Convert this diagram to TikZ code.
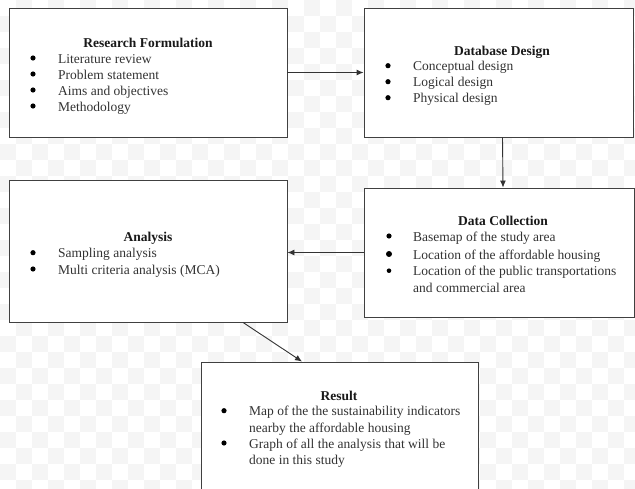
\documentclass[tikz,border=0pt]{standalone}
\usepackage{fontspec}
\setmainfont{Liberation Serif}
\usetikzlibrary{arrows.meta}
\begin{document}
\begin{tikzpicture}[x=1pt,y=-1pt,
  box/.style={draw=black!75, line width=0.9pt, fill=white, inner sep=0pt},
  ttl/.style={font=\fontsize{13.5}{16}\selectfont\bfseries, text=black!90, inner sep=0pt, anchor=mid, yshift=-2.8pt},
  itm/.style={font=\fontsize{13.5}{16}\selectfont, text=black!80, inner sep=0pt, anchor=mid west, yshift=-2.8pt},
  bul/.style={circle, fill=black, inner sep=0pt, minimum size=5.2pt},
  arr/.style={draw=black!80, line width=0.9pt, -{Latex[length=7pt,width=6pt]}}]
\useasboundingbox (0,0) rectangle (635,489);
\clip (0,0) rectangle (635,489);
\fill[white] (0,0) rectangle (635,489);
% faint transparency checkerboard
\foreach \i in {0,...,39} {
  \foreach \j in {0,...,30} {
    \pgfmathparse{int(mod(\i+\j,2))}
    \ifnum\pgfmathresult=1
      \fill[black!4] (\i*16,\j*16) rectangle ++(16,16);
    \fi
  }
}
% boxes
\node[box, minimum width=278pt, minimum height=129pt] (rf) at (148,72.5) {};
\node[box, minimum width=269pt, minimum height=129pt] (dd) at (498.5,72.5) {};
\node[box, minimum width=270pt, minimum height=129pt] (dc) at (499,252.5) {};
\node[box, minimum width=278pt, minimum height=142pt] (an) at (148,251) {};
\node[box, minimum width=277pt, minimum height=140pt] (rs) at (339.5,432) {};
% arrows
\draw[arr] (rf.east) -- (dd.west);
\draw[arr] ([xshift=4pt]dd.south) -- ([xshift=4pt]dc.north);
\draw[arr] (dc.west) -- (dc.west -| an.east);
\draw[arr] ([xshift=95pt]an.south) -- ([xshift=-37.5pt]rs.north);
% Research Formulation
\node[ttl] (rft) at (148,42.7) {Research Formulation};
\node[bul] (rfb1) at (33,58) {};
\node[itm] (rf1) at (58,58) {Literature review};
\node[bul] (rfb2) at (33,74) {};
\node[itm] (rf2) at (58,74) {Problem statement};
\node[bul] (rfb3) at (33,90) {};
\node[itm] (rf3) at (58,90) {Aims and objectives};
\node[bul] (rfb4) at (33,106) {};
\node[itm] (rf4) at (58,106) {Methodology};
% Database Design
\node[ttl] (ddt) at (502,50) {Database Design};
\node[bul] (ddb1) at (388,65.7) {};
\node[itm] (dd1) at (413,65.7) {Conceptual design};
\node[bul] (ddb2) at (388,81.7) {};
\node[itm] (dd2) at (413,81.7) {Logical design};
\node[bul] (ddb3) at (388,97.7) {};
\node[itm] (dd3) at (413,97.7) {Physical design};
% Data Collection
\node[ttl] (dct) at (503,220.7) {Data Collection};
\node[bul] (dcb1) at (389,236) {};
\node[itm] (dc1) at (413,236) {Basemap of the study area};
\node[bul, minimum size=6pt] (dcb2) at (389,254) {};
\node[itm] (dc2) at (413,254) {Location of the affordable housing};
\node[bul, minimum size=4.6pt] (dcb3) at (389,270.7) {};
\node[itm] (dc3) at (413,270.7) {Location of the public transportations};
\node[itm] (dc4) at (413,287) {and commercial area};
% Analysis
\node[ttl] (ant) at (148,236.7) {Analysis};
\node[bul] (anb1) at (33,252.7) {};
\node[itm] (an1) at (58,252.7) {Sampling analysis};
\node[bul] (anb2) at (33,269) {};
\node[itm] (an2) at (58,269) {Multi criteria analysis (MCA)};
% Result
\node[ttl] (rst) at (339,395.7) {Result};
\node[bul] (rsb1) at (224,410.7) {};
\node[itm] (rs1) at (249,410.7) {Map of the the sustainability indicators};
\node[itm] (rs2) at (249,427) {nearby the affordable housing};
\node[bul] (rsb2) at (224,443) {};
\node[itm] (rs3) at (249,443) {Graph of all the analysis that will be};
\node[itm] (rs4) at (249,459) {done in this study};
\end{tikzpicture}
\end{document}
